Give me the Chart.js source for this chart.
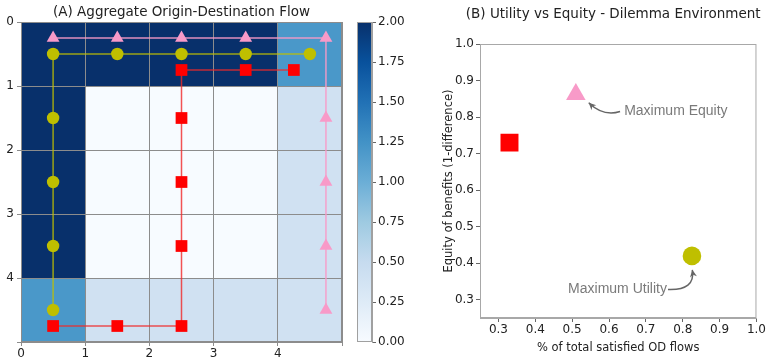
<!DOCTYPE html>
<html>
<head>
<meta charset="utf-8">
<script src="https://cdn.jsdelivr.net/npm/chart.js@4.4.1/dist/chart.umd.min.js"></script>
<style>
  body { margin: 0; background: #fff; }
  #wrap { position: relative; width: 767px; height: 360px; overflow: hidden; }
  canvas { position: absolute; top: 0; }
</style>
</head>
<body>
<div id="wrap">
  <canvas id="heat" width="350" height="360" style="left:0"></canvas>
  <canvas id="cbar" width="70" height="360" style="left:350px"></canvas>
  <canvas id="scat" width="347" height="360" style="left:420px"></canvas>
</div>
<script>
// heatmap rows (y = 0 at top)
const heatRows = [
  [2.0, 2.0, 2.0, 2.0, 1.2],
  [2.0, 0.0, 0.0, 0.0, 0.4],
  [2.0, 0.0, 0.0, 0.0, 0.4],
  [2.0, 0.0, 0.0, 0.0, 0.4],
  [1.2, 0.4, 0.4, 0.4, 0.4]
];
const gridTicks = [0, 1, 2, 3, 4];
const colorbarTicks = [0, 0.25, 0.5, 0.75, 1.0, 1.25, 1.5, 1.75, 2.0];

// agent paths on the grid
const pinkPathX = [0.5, 1.5, 2.5, 3.5, 4.75, 4.75, 4.75, 4.75, 4.75];
const pinkPathY = [0.25, 0.25, 0.25, 0.25, 0.25, 1.5, 2.5, 3.5, 4.5];
const yellowPathX = [4.5, 3.5, 2.5, 1.5, 0.5, 0.5, 0.5, 0.5, 0.5];
const yellowPathY = [0.5, 0.5, 0.5, 0.5, 0.5, 1.5, 2.5, 3.5, 4.5];
const redPathX = [4.25, 3.5, 2.5, 2.5, 2.5, 2.5, 2.5, 1.5, 0.5];
const redPathY = [0.75, 0.75, 0.75, 1.5, 2.5, 3.5, 4.75, 4.75, 4.75];

// utility vs equity
const utilityValues = [0.33, 0.51, 0.825];
const equityValues = [0.73, 0.862, 0.42];
const xTicksB = [0.3, 0.4, 0.5, 0.6, 0.7, 0.8, 0.9, 1.0];
const yTicksB = [0.3, 0.4, 0.5, 0.6, 0.7, 0.8, 0.9, 1.0];

const FONT = "DejaVu Sans";
const TXT = "#222";
const SPINE = "#8c8c8c";
const PINK = "#f89ac8";
const YEL = "#bfbf00";
const RED = "#ff0000";

const blues = ["#f7fbff", "#deebf7", "#c6dbef", "#9ecae1", "#6baed6", "#4292c6", "#2171b5", "#08519c", "#08306b"];
function hex(c) { return [1, 3, 5].map(i => parseInt(c.substr(i, 2), 16)); }
function bluesColor(t) {
  t = Math.max(0, Math.min(1, t));
  const p = t * (blues.length - 1);
  const i = Math.min(Math.floor(p), blues.length - 2);
  const f = p - i;
  const a = hex(blues[i]), b = hex(blues[i + 1]);
  const c = a.map((v, k) => Math.round(v + (b[k] - v) * f));
  return `rgb(${c[0]},${c[1]},${c[2]})`;
}

const toPts = (xs, ys) => xs.map((x, i) => ({ x, y: ys[i] }));

const panelTitle = {
  id: "panelTitle",
  afterDraw(chart, args, opts) {
    const { ctx, chartArea } = chart;
    ctx.save();
    ctx.font = `13.5px "${FONT}"`;
    ctx.fillStyle = TXT;
    ctx.textAlign = "center";
    ctx.textBaseline = "middle";
    ctx.fillText(opts.text, (chartArea.left + chartArea.right) / 2 + (opts.dx || 0), opts.y);
    ctx.restore();
  }
};

const boxFrame = {
  id: "boxFrame",
  afterDraw(chart, args, opts) {
    const { ctx, chartArea } = chart;
    ctx.save();
    ctx.strokeStyle = opts.color;
    ctx.lineWidth = 1;
    ctx.strokeRect(chartArea.left + 0.5, chartArea.top + 0.5, chartArea.width - 1, chartArea.height - 1);
    ctx.restore();
  }
};

const heatCells = {
  id: "heatCells",
  beforeDraw(chart) {
    const { ctx } = chart;
    const xs = chart.scales.x, ys = chart.scales.y;
    heatRows.forEach((row, r) => {
      row.forEach((v, c) => {
        const x0 = xs.getPixelForValue(c), x1 = xs.getPixelForValue(c + 1);
        const y0 = ys.getPixelForValue(r), y1 = ys.getPixelForValue(r + 1);
        ctx.fillStyle = bluesColor(v / 2);
        ctx.fillRect(Math.min(x0, x1), Math.min(y0, y1), Math.abs(x1 - x0), Math.abs(y1 - y0));
      });
    });
  }
};

function pathSet(xs, ys, color, style, r, lineColor) {
  return {
    data: toPts(xs, ys),
    showLine: true,
    borderColor: lineColor,
    borderWidth: 1.5,
    pointStyle: style,
    pointRadius: r,
    pointBackgroundColor: color,
    pointBorderColor: color,
    pointBorderWidth: 0
  };
}

const tickFont = { family: FONT, size: 12 };
const labelFont = { family: FONT, size: 11.5 };

new Chart(document.getElementById("heat"), {
  type: "scatter",
  data: {
    datasets: [
      pathSet(yellowPathX, yellowPathY, YEL, "circle", 6.2, "rgba(191,191,0,0.8)"),
      pathSet(redPathX, redPathY, RED, "rect", 8.3, "rgba(240,40,40,0.8)"),
      pathSet(pinkPathX, pinkPathY, PINK, "triangle", 7.4, "rgba(248,154,200,0.9)")
    ]
  },
  options: {
    responsive: false,
    animation: false,
    layout: { padding: { left: 0, top: 22, right: 8, bottom: 0 }, autoPadding: false },
    plugins: {
      legend: { display: false },
      tooltip: { enabled: false },
      panelTitle: { text: "(A) Aggregate Origin-Destination Flow", y: 12 },
      boxFrame: { color: SPINE }
    },
    scales: {
      x: {
        type: "linear", min: 0, max: 5,
        afterBuildTicks: s => { s.ticks = [0, 1, 2, 3, 4, 5].map(v => ({ value: v })); },
        afterFit: s => { s.height = 18; },
        ticks: { font: tickFont, color: TXT, padding: 1, maxRotation: 0,
          callback: v => gridTicks.includes(v) ? String(v) : "" },
        grid: { color: SPINE, lineWidth: 1, tickLength: 4, tickColor: SPINE },
        border: { color: SPINE }
      },
      y: {
        type: "linear", min: 0, max: 5, reverse: true,
        afterBuildTicks: s => { s.ticks = [0, 1, 2, 3, 4, 5].map(v => ({ value: v })); },
        afterFit: s => { s.width = 21; },
        ticks: { font: tickFont, color: TXT, padding: 3,
          callback: v => gridTicks.includes(v) ? String(v) : "" },
        grid: { color: SPINE, lineWidth: 1, tickLength: 4, tickColor: SPINE },
        border: { color: SPINE }
      }
    }
  },
  plugins: [heatCells, panelTitle, boxFrame]
});

const cbGradient = {
  id: "cbGradient",
  beforeDraw(chart) {
    const { ctx, chartArea } = chart;
    const ys = chart.scales.y;
    const g = ctx.createLinearGradient(0, ys.getPixelForValue(0), 0, ys.getPixelForValue(2));
    for (let i = 0; i <= 16; i++) g.addColorStop(i / 16, bluesColor(i / 16));
    ctx.fillStyle = g;
    ctx.fillRect(chartArea.left, chartArea.top, chartArea.width, chartArea.height);
  }
};

new Chart(document.getElementById("cbar"), {
  type: "scatter",
  data: { datasets: [{ data: [] }] },
  options: {
    responsive: false,
    animation: false,
    layout: { padding: { left: 7, top: 22, right: 0, bottom: 18 }, autoPadding: false },
    plugins: { legend: { display: false }, tooltip: { enabled: false }, boxFrame: { color: "#a0a0a0" } },
    scales: {
      x: { display: false, min: 0, max: 1 },
      y: {
        type: "linear", position: "right", min: 0, max: 2,
        afterBuildTicks: s => { s.ticks = colorbarTicks.map(v => ({ value: v })); },
        afterFit: s => { s.width = 48; },
        ticks: { font: tickFont, color: TXT, padding: 2, callback: v => v.toFixed(2) },
        grid: { drawOnChartArea: false, tickLength: 4, tickColor: "#666" },
        border: { color: "#a0a0a0" }
      }
    }
  },
  plugins: [cbGradient, boxFrame]
});

const annotations = [
  { text: "Maximum Equity", tx: 0.641, ty: 0.817, align: "left",
    from: [0.630, 0.815], ctrl: [0.585, 0.80], to: [0.545, 0.839] },
  { text: "Maximum Utility", tx: 0.757, ty: 0.328, align: "right",
    from: [0.760, 0.328], ctrl: [0.835, 0.325], to: [0.826, 0.382] }
];

const arrowNotes = {
  id: "arrowNotes",
  afterDatasetsDraw(chart) {
    const { ctx } = chart;
    const xs = chart.scales.x, ys = chart.scales.y;
    const P = p => [xs.getPixelForValue(p[0]), ys.getPixelForValue(p[1])];
    ctx.save();
    annotations.forEach(a => {
      ctx.font = `14px "Liberation Sans"`;
      ctx.fillStyle = "#7a7a7a";
      ctx.textAlign = a.align;
      ctx.textBaseline = "middle";
      ctx.fillText(a.text, xs.getPixelForValue(a.tx), ys.getPixelForValue(a.ty));
      const f = P(a.from), c = P(a.ctrl), t = P(a.to);
      ctx.strokeStyle = "#666";
      ctx.lineWidth = 1.5;
      ctx.beginPath();
      ctx.moveTo(f[0], f[1]);
      ctx.quadraticCurveTo(c[0], c[1], t[0], t[1]);
      ctx.stroke();
      const ang = Math.atan2(t[1] - c[1], t[0] - c[0]);
      ctx.fillStyle = "#666";
      ctx.beginPath();
      ctx.moveTo(t[0], t[1]);
      ctx.lineTo(t[0] - 8 * Math.cos(ang - 0.45), t[1] - 8 * Math.sin(ang - 0.45));
      ctx.lineTo(t[0] - 5 * Math.cos(ang), t[1] - 5 * Math.sin(ang));
      ctx.lineTo(t[0] - 8 * Math.cos(ang + 0.45), t[1] - 8 * Math.sin(ang + 0.45));
      ctx.closePath();
      ctx.fill();
    });
    ctx.restore();
  }
};

const pointStyles = ["rect", "triangle", "circle"];
const pointColors = [RED, PINK, YEL];
const pointRadii = [12.7, 11.3, 9.3];

new Chart(document.getElementById("scat"), {
  type: "scatter",
  data: {
    datasets: utilityValues.map((u, i) => ({
      data: [{ x: u, y: equityValues[i] }],
      pointStyle: pointStyles[i],
      pointRadius: pointRadii[i],
      pointBackgroundColor: pointColors[i],
      pointBorderColor: pointColors[i],
      pointBorderWidth: 0
    }))
  },
  options: {
    responsive: false,
    animation: false,
    layout: { padding: { left: 0, top: 44, right: 7, bottom: 0 }, autoPadding: false },
    plugins: {
      legend: { display: false },
      tooltip: { enabled: false },
      panelTitle: { text: "(B) Utility vs Equity - Dilemma Environment", y: 14, dx: -5 },
      boxFrame: { color: "#a8a8a8" }
    },
    scales: {
      x: {
        type: "linear", min: 0.25, max: 1.0,
        afterBuildTicks: s => { s.ticks = xTicksB.map(v => ({ value: v })); },
        afterFit: s => { s.height = 42; },
        ticks: { font: tickFont, color: TXT, padding: 1, maxRotation: 0, callback: v => v.toFixed(1) },
        grid: { drawOnChartArea: false, tickLength: 4, tickColor: "#666" },
        border: { color: "#a8a8a8" },
        title: { display: true, text: "% of total satisfied OD flows", font: labelFont, color: TXT, padding: { top: 0, bottom: 5 } }
      },
      y: {
        type: "linear", min: 0.25, max: 1.0,
        afterBuildTicks: s => { s.ticks = yTicksB.map(v => ({ value: v })); },
        afterFit: s => { s.width = 60; },
        ticks: { font: tickFont, color: TXT, padding: 2, callback: v => v.toFixed(1) },
        grid: { drawOnChartArea: false, tickLength: 4, tickColor: "#666" },
        border: { color: "#a8a8a8" },
        title: { display: true, text: "Equity of benefits (1-difference)", font: labelFont, color: TXT, padding: { top: 22 } }
      }
    }
  },
  plugins: [arrowNotes, panelTitle, boxFrame]
});
</script>
</body>
</html>
